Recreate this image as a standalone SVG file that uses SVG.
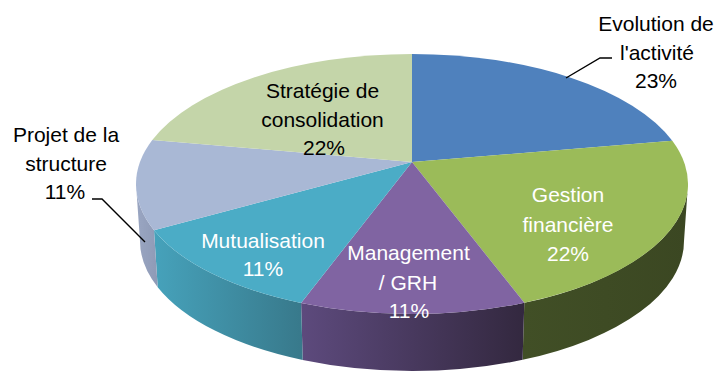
<svg xmlns="http://www.w3.org/2000/svg" width="719" height="374" viewBox="0 0 719 374">
  <defs>
    <linearGradient id="gPurple" gradientUnits="userSpaceOnUse" x1="301" y1="0" x2="524" y2="0">
      <stop offset="0" stop-color="#5d4a7d"/>
      <stop offset="1" stop-color="#33283f"/>
    </linearGradient>
    <linearGradient id="gTeal" gradientUnits="userSpaceOnUse" x1="154" y1="0" x2="302" y2="0">
      <stop offset="0" stop-color="#46a2bb"/>
      <stop offset="1" stop-color="#38798b"/>
    </linearGradient>
    <linearGradient id="gGreen" gradientUnits="userSpaceOnUse" x1="523" y1="0" x2="688" y2="0">
      <stop offset="0" stop-color="#414f26"/>
      <stop offset="1" stop-color="#3b4722"/>
    </linearGradient>
    <linearGradient id="gProjet" gradientUnits="userSpaceOnUse" x1="136" y1="0" x2="158" y2="0">
      <stop offset="0" stop-color="#9aa6c2"/>
      <stop offset="1" stop-color="#8e9ab6"/>
    </linearGradient>
  </defs>
  <style>
    text { font-family: "Liberation Sans", Arial, sans-serif; font-size: 21px; text-anchor: middle; }
    .dark { fill: #000000; }
    .light { fill: #ffffff; }
    .leader { fill: none; stroke: #000000; stroke-width: 1.4; }
  </style>
  <rect width="719" height="374" fill="#ffffff"/>

  <g id="evolution">
    <path d="M412,162 L412,54 A276,130 0 0,1 672.3,140.8 Z" fill="#4f81bd"/>
    <text class="dark" x="656" y="31">Evolution de</text>
    <text class="dark" x="657" y="60">l'activité</text>
    <text class="dark" x="656" y="88">23%</text>
  </g>

  <g id="gestion">
    <path d="M688,184 A276,130 0 0,1 524.3,302.8 L522.6,359.8 A272,130 0 0,0 684,241 Z" fill="url(#gGreen)"/>
    <path d="M412,162 L672.3,140.8 A276,130 0 0,1 524.3,302.8 Z" fill="#9bbb59"/>
    <text class="light" x="568" y="202">Gestion</text>
    <text class="light" x="568" y="232">financière</text>
    <text class="light" x="568" y="261">22%</text>
  </g>

  <g id="management">
    <path d="M524.3,302.8 A276,130 0 0,1 301.1,303 L302.7,360 A272,130 0 0,0 522.6,359.8 Z" fill="url(#gPurple)"/>
    <path d="M412,162 L524.3,302.8 A276,130 0 0,1 301.1,303 Z" fill="#8064a2"/>
    <text class="light" x="408.5" y="260">Management</text>
    <text class="light" x="408" y="290">/ GRH</text>
    <text class="light" x="409" y="318">11%</text>
  </g>

  <g id="mutualisation">
    <path d="M301.1,303 A276,130 0 0,1 154,230.2 L157.7,287.2 A272,130 0 0,0 302.7,360 Z" fill="url(#gTeal)"/>
    <path d="M412,162 L301.1,303 A276,130 0 0,1 154,230.2 Z" fill="#4bacc6"/>
    <text class="light" x="263" y="248">Mutualisation</text>
    <text class="light" x="263" y="276">11%</text>
  </g>

  <g id="projet">
    <path d="M154,230.2 A276,130 0 0,1 136,184 L140,241 A272,130 0 0,0 157.7,287.2 Z" fill="url(#gProjet)"/>
    <path d="M412,162 L154,230.2 A276,130 0 0,1 152.3,140 Z" fill="#a9b8d5"/>
    <text class="dark" x="66" y="142">Projet de la</text>
    <text class="dark" x="66" y="171">structure</text>
    <text class="dark" x="65" y="199">11%</text>
  </g>

  <g id="strategie">
    <path d="M412,162 L152.3,140 A276,130 0 0,1 412,54 Z" fill="#c4d5a9"/>
    <text class="dark" x="322.5" y="98">Stratégie de</text>
    <text class="dark" x="322.5" y="127">consolidation</text>
    <text class="dark" x="324" y="155">22%</text>
  </g>

  <g id="connectors">
    <polyline class="leader" points="612,58 600,58 566,78"/>
    <polyline class="leader" points="92,199 102,199 145,242"/>
  </g>
</svg>
